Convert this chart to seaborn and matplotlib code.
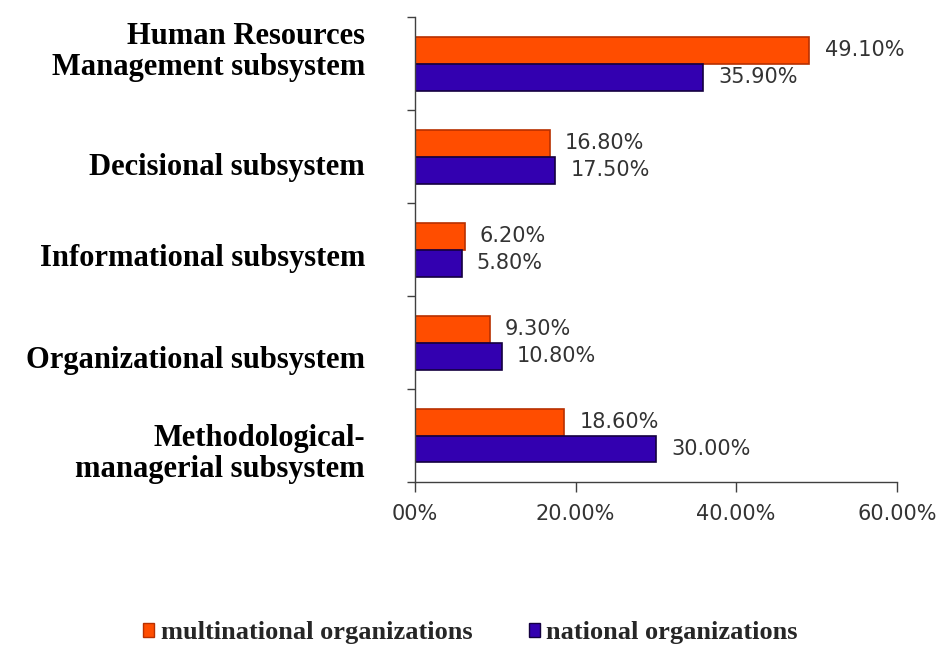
import numpy as np
import pandas as pd
import matplotlib.pyplot as plt
import matplotlib.transforms as mtransforms
import seaborn as sns
from matplotlib.patches import Patch

# ==================== DATA ====================

CATEGORIES = [
    'Human Resources\nManagement subsystem',
    'Decisional subsystem',
    'Informational subsystem',
    'Organizational subsystem',
    'Methodological-\nmanagerial subsystem',
]
SERIES = ['multinational organizations', 'national organizations']
MULTINATIONAL = [49.1, 16.8, 6.2, 9.3, 18.6]
NATIONAL = [35.9, 17.5, 5.8, 10.8, 30.0]
X_TICKS = [0, 20, 40, 60]
X_TICK_LABELS = ['00%', '20.00%', '40.00%', '60.00%']

COLORS = {'multinational organizations': '#ff4d00',
          'national organizations': '#3300b0'}
EDGES = {'multinational organizations': '#b83000',
         'national organizations': '#140040'}

# label nudges (pixels, + = down) so the pasted-in labels sit like the original
LABEL_NUDGE = [-16, 7, 5, 14, 14]

df = pd.DataFrame({
    'category': CATEGORIES * 2,
    'series': [SERIES[0]] * len(CATEGORIES) + [SERIES[1]] * len(CATEGORIES),
    'value': MULTINATIONAL + NATIONAL,
})

# ==================== PLOT ====================

sns.set_style('white')
fig = plt.figure(figsize=(9.43, 6.51), dpi=100)
ax = fig.add_axes([0.440, 0.2596, 0.511, 0.714])

sns.barplot(data=df, y='category', x='value', hue='series',
            hue_order=SERIES, order=CATEGORIES, palette=COLORS,
            orient='h', width=0.58, ax=ax, legend=False, saturation=1)

for cont, s in zip(ax.containers, SERIES):
    for bar in cont:
        bar.set_edgecolor(EDGES[s])
        bar.set_linewidth(1.2)
    ax.bar_label(cont, labels=[f'{v:.2f}%' for v in cont.datavalues],
                 padding=11, fontsize=15, color='#333333',
                 family='DejaVu Sans')

ax.set_xlim(0, 60)
ax.set_ylim(len(CATEGORIES) - 0.5, -0.5)
ax.set_xticks(X_TICKS)
ax.set_xticklabels(X_TICK_LABELS, fontsize=15, color='#333333')
ax.tick_params(axis='x', length=7, width=1, color='#404040', pad=9,
               bottom=True, direction='out')

ax.set_yticks(np.arange(len(CATEGORIES)))
ax.set_yticklabels(CATEGORIES, fontsize=22, fontweight='bold',
                   family='Liberation Serif', color='black',
                   linespacing=1.1)
ax.tick_params(axis='y', length=0, pad=36)
ax.set_yticks(np.arange(len(CATEGORIES) + 1) - 0.5, minor=True)
ax.tick_params(axis='y', which='minor', length=6, width=1,
               color='#404040', left=True)
for lbl, dy in zip(ax.get_yticklabels(), LABEL_NUDGE):
    lbl.set_horizontalalignment('right')
    lbl.set_transform(lbl.get_transform() +
                      mtransforms.ScaledTranslation(0, -dy / 100,
                                                    fig.dpi_scale_trans))

ax.set_xlabel('')
ax.set_ylabel('')
for side in ['top', 'right']:
    ax.spines[side].set_visible(False)
for side in ['left', 'bottom']:
    ax.spines[side].set_color('#404040')
    ax.spines[side].set_linewidth(1)

handles = [Patch(facecolor=COLORS[s], edgecolor=EDGES[s], label=s)
           for s in SERIES]
fig.legend(handles=handles, loc='center', bbox_to_anchor=(0.499, 0.028),
           ncol=2, frameon=False, handlelength=0.4, handleheight=0.4,
           handletextpad=0.25, columnspacing=2.15, borderpad=0,
           prop={'family': 'Liberation Serif', 'weight': 'bold', 'size': 19})

plt.savefig('out.png', dpi=100)
